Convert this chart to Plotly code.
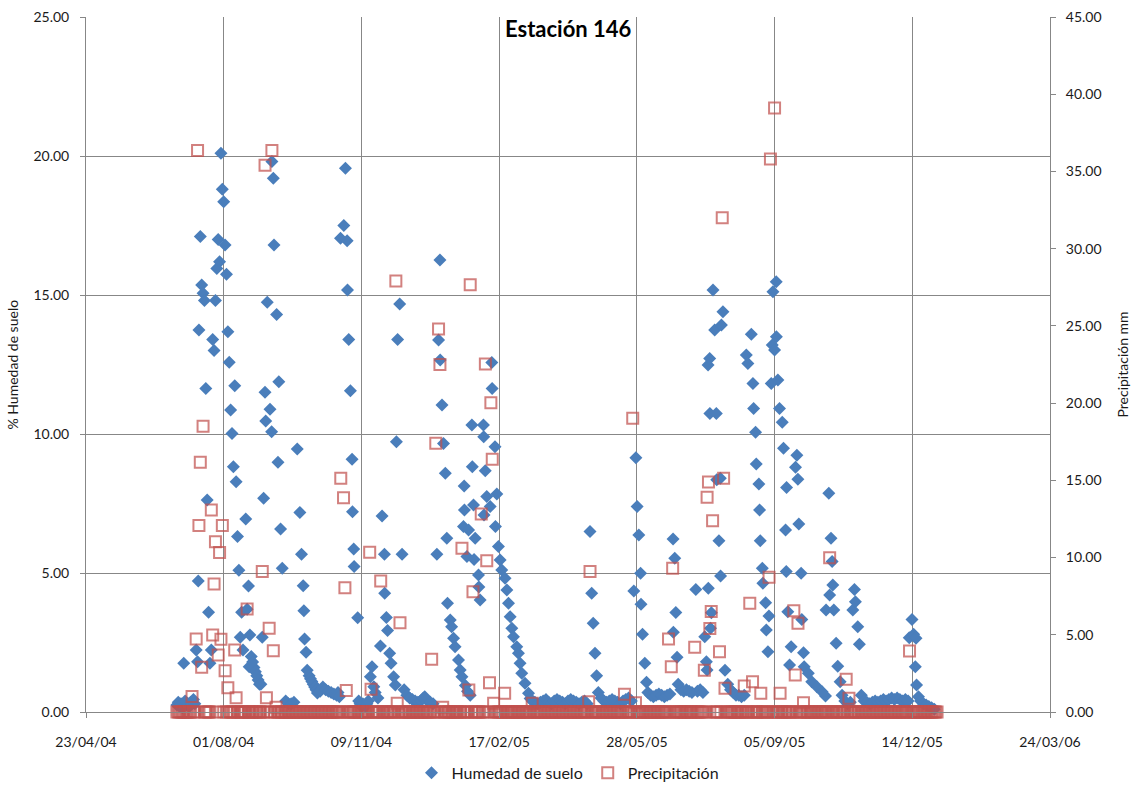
import pandas as pd
import plotly.graph_objects as go

# ---------------- data ----------------
start_date = "2004-04-23"          # day 0 of the offsets below
x_tick_labels = ["23/04/04", "01/08/04", "09/11/04", "17/02/05",
                 "28/05/05", "05/09/05", "14/12/05", "24/03/06"]

# Soil humidity (%) : (day offset, value)
hum_2004_a = [(66,0.25),(67,0.35),(68,0.2),(69,0.3),(70,0.15),(71,1.75),(72,0.4),(73,0.25),(74,0.3),
              (75,0.2),(76,0.35),(77,0.3),(78,0.45),(79,0.3),(80,2.23),(81,1.81),(81.5,4.71),(82,13.74),
              (83,17.1),(84,15.36),(85,15.06),(86,14.8),(87,11.64),(88,7.63),(89,3.59),(90,1.75),(91,2.23),
              (92,13.4),(93,13.0),(94,14.8),(95,15.95),(96,17.0),(97,16.2),(98,20.1),(99,18.8),(100,18.35),
              (101,16.8),(102,15.75),(103,13.68),(104,12.58),(105,10.86),(106,10.02),(107,8.82),(108,11.74),
              (109,8.28),(110,6.31),(111,5.1),(112,2.69),(113,3.59),(114,2.23),(116,6.94),(117,3.7),(118,4.53),
              (118.5,1.63),(119,2.77),(120,2.0),(121,1.8),(122,1.6),(123,1.45),(124,1.3),(125,1.15),(126,1.0)]
hum_2004_b = [(127,1.0),(128,2.69),(129,7.69),(130,11.5),(130.5,10.47),(131.6,14.74),(133.6,10.89),
              (134.8,10.08),(135,19.8),(136,19.2),(136.5,16.8),(138.4,14.3),(139.4,8.98),(140,11.88),
              (141.3,6.58),(142.5,5.17),(145,0.4),(147,0.3),(149,0.3),(151,0.35),(153.4,9.46),(155.3,7.18),
              (156.5,5.67),(157.7,4.54),(158.2,3.64),(158.7,2.63),(159.8,2.15),(160.6,1.5),(162,1.3),(163,1.2),
              (164,1.1),(165,1.0),(166,0.9),(167,0.8),(168,0.68),(170,0.75),(172,0.9),(174,0.8),(176,0.75),
              (178,0.7),(180,0.65),(182,0.6),(183,0.7),(184,0.55)]
hum_2004_c = [(184.8,17.04),(187.2,17.5),(188.4,19.56),(189.6,16.95),(189.9,15.18),(190.8,13.4),(192,11.56),
              (193.2,9.09),(193.5,7.2),(194.4,5.86),(194.7,5.23),(197.3,3.39),(198,0.4),(199,0.3),(200,0.2),
              (201,0.3),(202,0.25),(203,0.2),(204,0.3),(205,0.4),(206.5,1.27),(207.7,1.63),(209,0.91),(210,0.7),
              (212,0.5),(213.8,2.37),(215,7.05),(216.7,5.67),(216.9,4.27),(218.1,3.4),(219,2.93),(220.5,2.11),
              (221.5,1.75),(223.4,1.27),(224.6,0.97),(225.4,9.72),(226.3,13.4),(227.8,14.68),(229.5,5.67),
              (231,0.8),(233,0.6),(235,0.5),(237,0.45),(239,0.4),(241,0.35),(243,0.4),(245,0.5),(246,0.55),
              (248,0.4),(250,0.35),(252,0.3)]
hum_2005_a = [(254.8,5.67),(256,13.38),(257,16.26),(257.2,12.66),(258.5,11.04),(259.6,9.66),(260.9,8.59),
              (262,6.25),(262.5,3.91),(264.5,3.31),(265.5,3.07),(266.9,2.65),(268,2.35),(270.5,1.87),
              (271.7,1.51),(273,1.27),(274.1,6.67),(274.6,8.13),(274.8,7.27),(275.5,0.95),(276.6,5.59),(277,0.75),
              (277.8,6.55),(279,0.6),(280.2,10.32),(280.5,8.82),(281.4,7.45),(281.8,5.49),(282.6,6.25),(285,4.93),
              (285.3,4.5),(286.2,4.03),(288.6,10.32),(288.8,9.9),(289,7.09),(289.9,8.68),(291,7.75),(293.5,7.39),
              (294.7,12.57),(294.9,11.64),(297,9.54),(297.3,6.67),(298.3,7.84),(299.5,5.95),(300.7,5.47),
              (301.9,5.11),(304.3,4.81),(305.6,4.39),(306.8,3.91),(308,3.43),(309.2,3.01),(310.4,2.71),
              (312.8,2.35),(314,2.11),(315.2,1.75),(316.4,1.39),(318.8,1.03),(321.3,0.67),(322.5,0.49)]
hum_2005_b = [(324,0.4),(326,0.35),(328,0.3),(330,0.35),(332,0.4),(334,0.45),(336,0.35),(338,0.3),(340,0.4),
              (342,0.45),(344,0.4),(346,0.35),(348,0.3),(350,0.4),(352,0.45),(354,0.4),(356,0.35),(358,0.3),
              (360,0.35),(362,0.4),(364,0.3),(366,6.49),(367.2,4.27),(368.3,3.19),(369.6,2.11),(370.8,1.3),
              (372,0.7),(374,0.5),(376,0.4),(378,0.35),(380,0.4),(382,0.45),(384,0.4),(386,0.35),(388,0.3),
              (390,0.4),(392,0.45),(394,0.5),(396,0.4),(397.8,4.35),(399.3,9.15),(400.2,7.39),(401.4,6.37),
              (402.7,4.99),(403,3.88),(404.1,2.8),(405.8,1.75),(407,1.07),(408,0.7),(410,0.6),(412,0.55),
              (414,0.6),(416,0.65),(418,0.6),(420,0.55),(422,0.6),(424,0.65),(426.3,6.22),(426.5,2.87),
              (427.5,5.53),(428.3,3.58),(429.2,1.97),(430,1.0),(432,0.8),(434,0.75),(436,0.8),(438,0.75),
              (440,0.7),(442.8,4.41),(444,0.75),(446,0.8),(448,0.7)]
hum_2005_c = [(449.3,2.71),(450.5,1.81),(451,1.51),(451.7,12.48),(451.9,4.45),(452.9,12.72),(453,10.74),
              (453.5,3.01),(454.1,3.57),(455.3,15.18),(456.5,13.74),(457.7,10.74),(458,8.35),(459.6,6.16),
              (460.6,8.41),(460.8,4.89),(461.4,13.92),(462.5,14.4),(464,1.5),(466,1.0),(468,0.8),(470,0.7),
              (472,0.6),(474,0.6),(476,0.55),(478,0.6),(479.5,12.84),(480.6,12.54),(483.1,13.59),(484.3,11.82),
              (484.8,10.92),(486.2,10.06),(486.7,8.92),(488.6,8.2),(489.1,7.27),(489.6,6.16),(491.1,5.17),
              (491.5,4.63),(493.5,3.93),(494,2.95),(495.2,2.17),(495.9,3.45),(497.6,11.82),(498.3,13.2),
              (498.8,15.12),(500,13.02),(501.2,15.48),(501.3,13.5),(502.4,11.94),(503.6,10.92),(505.6,10.42),
              (506.5,9.49),(508,6.55),(508.5,5.05),(508.7,8.08),(509.6,3.61),(510.9,1.69),(512,2.35),(515.2,8.8),
              (516.2,9.24),(516.9,8.37),(517.6,6.76),(519.3,4.99),(519.8,3.33),(521,2.13),(521.5,1.63),
              (524.5,1.39),(527,1.09),(530.7,0.91),(534.5,0.73),(537,0.58)]
hum_2005_d = [(537.4,3.67),(539.4,7.87),(540,4.21),(541,6.25),(541.8,5.41),(542.3,4.57),(543,3.67),(544.7,2.47),
              (545.9,1.65),(547.6,1.09),(549,0.6),(551,0.4),(553,0.3),(555,0.35),(556.8,3.67),(558,4.41),
              (558.7,3.97),(560.4,3.07),(561.6,2.44),(563,0.6),(565,0.4),(567,0.35),(569,0.3),(571,0.35),
              (573,0.4),(575,0.35),(577,0.4),(579,0.45),(581,0.4),(583,0.45),(585,0.5),(587,0.45),(589,0.5),
              (591,0.45),(593,0.4),(595,0.45),(597,0.4),(597.8,2.67),(599.8,3.33),(601,2.8),(602.2,1.63),
              (602.7,2.65),(603.1,0.97),(604.5,0.55),(606,0.4),(608,0.3),(610,0.25),(612,0.2),(614,0.15),
              (616,0.1)]

# Precipitation (mm) on rainy days : (day offset, value); other days in the record are 0
precip_rain = [(77,1.0),(80,4.73),(81,36.35),(82,12.07),(83,16.17),(84,2.89),(85,18.5),(91,13.08),(92,4.99),
               (93,8.29),(94,11.03),(96,3.69),(97,10.32),(98,4.71),(99,12.07),(101,2.67),(103,1.57),(108,4.02),
               (109,0.93),(117,6.67),(128,9.09),(130,35.4),(131,0.93),(133,5.42),(135,36.35),(136,3.97),
               (138,0.3),(185,15.14),(187,13.88),(188,8.05),(189,1.4),(206,10.34),(207,1.47),(214,8.48),
               (225,27.9),(226,0.56),(228,5.78),(251,3.41),(254,17.4),(256,24.8),(257,22.5),(259,0.3),
               (273,10.6),(278,1.42),(279,27.66),(281,7.79),(287,12.82),(290,22.54),(291,9.8),(293,1.9),
               (294,20.03),(295,16.37),(296,0.56),(304,1.21),(324,0.56),(365,0.67),(366,9.09),(391,1.15),
               (397,19.02),(399,0.6),(423,4.73),(425,2.93),(426,9.3),(442,4.19),(449,2.7),(451,13.9),
               (452,14.9),(453,5.4),(454,6.5),(455,12.39),(460,3.9),(462,32.0),(463,15.14),(464,1.53),
               (478,1.68),(482,7.04),(484,1.96),(490,1.21),(496,8.72),(497,35.8),(500,39.1),(504,1.21),
               (514,6.56),(515,2.4),(517,5.74),(521,0.6),(540,9.99),(552,2.12),(554,0.89),(598,3.95)]
precip_first_day = 66
precip_last_day = 618

# ---------------- build series ----------------
base = pd.Timestamp(start_date)
hum = hum_2004_a + hum_2004_b + hum_2004_c + hum_2005_a + hum_2005_b + hum_2005_c + hum_2005_d
hum_x = [base + pd.Timedelta(days=d) for d, _ in hum]
hum_y = [v for _, v in hum]

rain = dict(precip_rain)
p_days = list(range(precip_first_day, precip_last_day + 1))
p_x = [base + pd.Timedelta(days=d) for d in p_days]
p_y = [rain.get(d, 0.0) for d in p_days]

tick_vals = [pd.to_datetime(t, format="%d/%m/%y") for t in x_tick_labels]

FONT = "Lato, 'Open Sans', sans-serif"
GRID = "#878787"
TXT = "#1a1a1a"

fig = go.Figure()
fig.add_trace(go.Scatter(
    x=hum_x, y=hum_y, mode="markers", name="Humedad de suelo", cliponaxis=False,
    marker=dict(symbol="diamond", size=10, color="#4A7EBB", line=dict(width=0)),
))
fig.add_trace(go.Scatter(
    x=p_x, y=p_y, mode="markers", name="Precipitación", yaxis="y2", cliponaxis=False,
    marker=dict(symbol="square-open", size=11, color="rgba(192,80,77,0.72)", line=dict(width=2)),
))

fig.update_layout(
    width=1135, height=787,
    margin=dict(l=86, r=85, t=17, b=75),
    paper_bgcolor="white", plot_bgcolor="white",
    font=dict(family=FONT, size=14, color=TXT),
    showlegend=True,
    legend=dict(orientation="h", x=0.5, xanchor="center", yref="container", y=0.018, yanchor="middle",
                font=dict(family=FONT, size=16, color=TXT), itemwidth=30),
    xaxis=dict(
        range=[tick_vals[0], tick_vals[-1]], automargin=False,
        tickvals=tick_vals, ticktext=x_tick_labels,
        showgrid=True, gridcolor=GRID, gridwidth=1,
        showline=True, linecolor=GRID, linewidth=1,
        ticks="outside", ticklen=5, tickcolor=GRID, ticklabelstandoff=12,
        zeroline=False, tickfont=dict(size=14, color=TXT), ticklabeloverflow="allow",
    ),
    yaxis=dict(
        range=[0, 25], dtick=5, tickformat=".2f", automargin=False,
        showgrid=True, gridcolor=GRID, gridwidth=1,
        showline=True, linecolor=GRID, linewidth=1,
        ticks="outside", ticklen=5, tickcolor=GRID, ticklabelstandoff=8,
        zeroline=False, tickfont=dict(size=14, color=TXT), ticklabeloverflow="allow",
    ),
    yaxis2=dict(
        range=[0, 45], dtick=5, tickformat=".2f", overlaying="y", side="right", automargin=False,
        showgrid=False, showline=True, linecolor=GRID, linewidth=1,
        ticks="outside", ticklen=5, tickcolor=GRID, tickprefix="\u2002",
        zeroline=False, tickfont=dict(size=14, color=TXT), ticklabeloverflow="allow",
    ),
    annotations=[
        dict(text="<b>Estación 146</b>", x=0.5, y=1.0, xref="paper", yref="paper",
             xanchor="center", yanchor="middle", showarrow=False,
             font=dict(family=FONT, size=22, color="#000000"), yshift=-11),
        dict(text="% Humedad de suelo", x=0, y=0.5, xref="paper", yref="paper",
             xanchor="center", yanchor="middle", textangle=-90, showarrow=False,
             font=dict(family=FONT, size=14, color=TXT), xshift=-74),
        dict(text="Precipitación mm", x=1, y=0.5, xref="paper", yref="paper",
             xanchor="center", yanchor="middle", textangle=-90, showarrow=False,
             font=dict(family=FONT, size=14, color=TXT), xshift=72),
    ],
)

fig.write_html("out.html", config={"displayModeBar": False},
               post_script="document.body.style.margin='0';")
